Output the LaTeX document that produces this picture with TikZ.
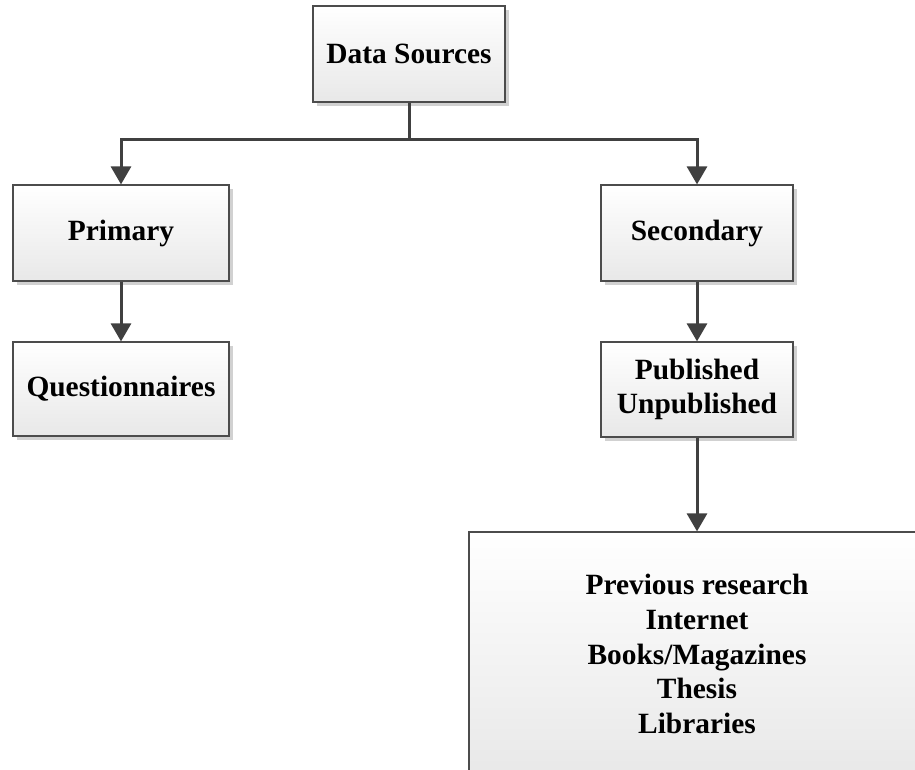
\documentclass[tikz,border=0pt]{standalone}
\usepackage{fontspec}
\setmainfont{Liberation Serif}
\usetikzlibrary{arrows.meta,shadows}
\begin{document}
\begin{tikzpicture}[x=1pt,y=-1pt,
  box/.style={draw=black!70, line width=1.2pt, top color=white, bottom color=black!9,
    drop shadow={shadow xshift=4pt, shadow yshift=-4pt, fill=black!18, opacity=1},
    align=center, font=\fontsize{29.4}{34.7}\selectfont\bfseries, inner sep=0pt},
  label/.style={align=center, font=\fontsize{29.4}{34.7}\selectfont\bfseries, inner sep=0pt},
  conn/.style={draw=black!75, line width=3pt, -{Triangle[width=20pt,length=18pt]}}]
  \useasboundingbox (0,0) rectangle (915,769);
  \clip (0,0) rectangle (915,769);
  % boxes
  \node[box, minimum width=192pt, minimum height=96pt] (ds) at (409,54) {Data Sources};
  \node[box, minimum width=216pt, minimum height=96pt] (prim) at (121,233) {Primary};
  \node[box, minimum width=216pt, minimum height=94pt] (quest) at (121,389) {Questionnaires};
  \node[box, minimum width=192pt, minimum height=96pt] (sec) at (697,233) {Secondary};
  \node[box, minimum width=192pt, minimum height=95pt] (pub) at (697,389.5) {Published\\Unpublished};
  % wide box running off the right and bottom edges, with its list centred below the arrow
  \node[box, minimum width=500pt, minimum height=244pt] (src) at (719,654) {};
  \node[label] (srctext) at (697,654) {Previous research\\Internet\\Books/Magazines\\Thesis\\Libraries};
  % connectors
  \coordinate (fork) at (409,139);
  \draw[draw=black!75, line width=3pt] (ds.south) -- (fork);
  \draw[conn] (fork) -| (prim.north);
  \draw[conn] (fork) -| (sec.north);
  \draw[conn] (prim.south) -- (quest.north);
  \draw[conn] (sec.south) -- (pub.north);
  \draw[conn] (pub.south) -- (pub.south |- src.north);
\end{tikzpicture}
\end{document}
